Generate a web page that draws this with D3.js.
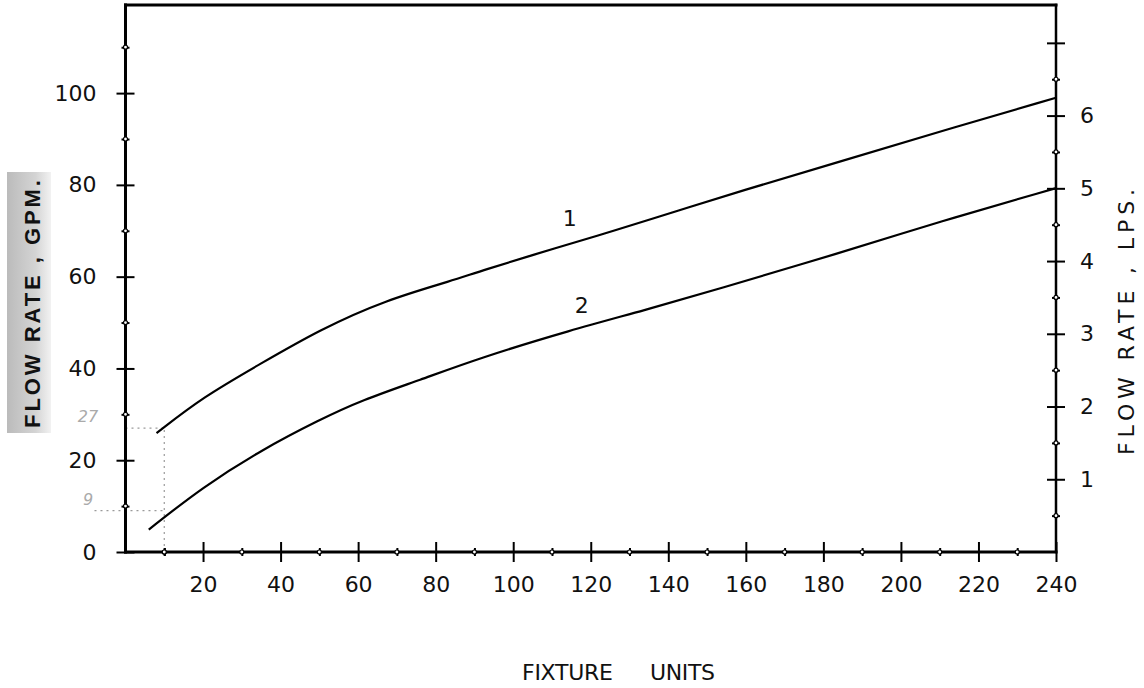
<!DOCTYPE html>
<html>
<head>
<meta charset="utf-8">
<script src="https://cdn.jsdelivr.net/npm/d3@7"></script>
<style>
  html, body { margin: 0; padding: 0; background: #fff; }
  svg { display: block; }
  .tick text { font-family: "DejaVu Sans", sans-serif; font-size: 22px; fill: #111; }
</style>
</head>
<body>
<svg id="chart" width="1144" height="688"></svg>
<script>
// ---------------- DATA ----------------
const curve1Units = [8, 20, 35, 50, 67, 85, 91, 112, 126, 143, 158, 184, 210, 240];
const curve1Gpm   = [25.9, 33.8, 41.1, 48.4, 54.9, 59.3, 61.1, 66.5, 70.0, 74.5, 78.5, 85.0, 91.6, 99.0];
const curve2Units = [6, 20, 35, 50, 61, 76, 91, 115, 134, 152, 184, 210, 240];
const curve2Gpm   = [4.9, 14.2, 22.2, 28.8, 33.1, 37.5, 42.2, 48.4, 52.7, 57.1, 65.1, 72.0, 79.3];

const xMajorTicks = [20, 40, 60, 80, 100, 120, 140, 160, 180, 200, 220, 240];
const xMinorTicks = [10, 30, 50, 70, 90, 110, 130, 150, 170, 190, 210, 230];
const gpmMajorTicks = [0, 20, 40, 60, 80, 100];
const gpmMinorTicks = [10, 30, 50, 70, 90, 110];
const lpsMajorTicks = [1, 2, 3, 4, 5, 6, 7];
const lpsLabelled   = [1, 2, 3, 4, 5, 6];
const lpsMinorTicks = [0.5, 1.5, 2.5, 3.5, 4.5, 5.5, 6.5];

const curveLabels = [
  { text: "1", units: 114.6, gpm: 72.8 },
  { text: "2", units: 117.7, gpm: 53.8 }
];
// pencil read-off at 10 fixture units
const guideUnits = 10;
const guideGpm = [27, 9];
const guideText = ["27", "9"];

const GPM_PER_LPS = 15.85;
const xMax = 240, gpmTop = 119.2;

// ---------------- LAYOUT ----------------
const svg = d3.select("#chart");
const M = { left: 125.5, top: 5, right: 1056, bottom: 552 };

const x = d3.scaleLinear().domain([0, xMax]).range([M.left, M.right]);
const y = d3.scaleLinear().domain([0, gpmTop]).range([M.bottom, M.top]);
const yL = d3.scaleLinear().domain([0, gpmTop / GPM_PER_LPS]).range([M.bottom, M.top]);

// left title background (stippled highlight)
const defs = svg.append("defs");
const grad = defs.append("linearGradient").attr("id", "hl").attr("x1", 0).attr("x2", 1);
grad.append("stop").attr("offset", "0%").attr("stop-color", "#bbbbbb");
grad.append("stop").attr("offset", "65%").attr("stop-color", "#d4d4d4");
grad.append("stop").attr("offset", "100%").attr("stop-color", "#f2f2f2");
svg.append("rect").attr("x", 7).attr("y", 172).attr("width", 44).attr("height", 261)
  .attr("fill", "url(#hl)");

// faint pencil guide lines
const guide = svg.append("g").attr("stroke", "#9a9a9a").attr("stroke-width", 1.2)
  .attr("stroke-dasharray", "2,4").attr("fill", "none");
guide.append("line").attr("x1", x(guideUnits)).attr("x2", x(guideUnits))
  .attr("y1", y(0)).attr("y2", y(guideGpm[0]));
guide.append("line").attr("x1", x(0)).attr("x2", x(guideUnits))
  .attr("y1", y(guideGpm[0])).attr("y2", y(guideGpm[0]));
guide.append("line").attr("x1", x(-8)).attr("x2", x(guideUnits))
  .attr("y1", y(guideGpm[1])).attr("y2", y(guideGpm[1]));
svg.selectAll("text.pencil").data(guideGpm).join("text").attr("class", "pencil")
  .attr("x", 88).attr("y", d => y(d) - 6)
  .attr("text-anchor", "middle")
  .attr("font-family", "DejaVu Sans").attr("font-size", 16).attr("font-style", "italic")
  .attr("fill", "#aaaaaa").text((d, i) => guideText[i]);

// ---------------- AXES ----------------
function crossTicks(g, half, vertical) {
  g.select(".domain").remove();
  g.selectAll(".tick line").attr("stroke", "#000").attr("stroke-width", 2);
  if (vertical) g.selectAll(".tick line").attr("y1", -half).attr("y2", half);
  else g.selectAll(".tick line").attr("x1", -half).attr("x2", half);
}

// left GPM axis
const gLeft = svg.append("g").attr("transform", `translate(${M.left},0)`)
  .call(d3.axisLeft(y).tickValues(gpmMajorTicks).tickSize(9).tickPadding(20).tickFormat(d3.format("d")));
crossTicks(gLeft, 9, false);
const gLeftMinor = svg.append("g").attr("transform", `translate(${M.left},0)`)
  .call(d3.axisLeft(y).tickValues(gpmMinorTicks).tickSize(4).tickFormat(""));
crossTicks(gLeftMinor, 4, false);

// right LPS axis
const gRight = svg.append("g").attr("transform", `translate(${M.right},0)`)
  .call(d3.axisRight(yL).tickValues(lpsMajorTicks).tickSize(9).tickPadding(15)
    .tickFormat(d => lpsLabelled.includes(d) ? d : ""));
crossTicks(gRight, 9, false);
const gRightMinor = svg.append("g").attr("transform", `translate(${M.right},0)`)
  .call(d3.axisRight(yL).tickValues(lpsMinorTicks).tickSize(4).tickFormat(""));
crossTicks(gRightMinor, 4, false);

// bottom axis
const gBottom = svg.append("g").attr("transform", `translate(0,${M.bottom})`)
  .call(d3.axisBottom(x).tickValues(xMajorTicks).tickSize(10).tickPadding(14));
crossTicks(gBottom, 10, true);
const gBottomMinor = svg.append("g").attr("transform", `translate(0,${M.bottom})`)
  .call(d3.axisBottom(x).tickValues([guideUnits].concat(xMinorTicks)).tickSize(4).tickFormat(""));
crossTicks(gBottomMinor, 4, true);

// frame: left axis, bottom axis, right axis, top border
const frame = svg.append("g").attr("stroke", "#000").attr("fill", "none").attr("stroke-linecap", "square");
frame.append("line").attr("x1", x(0)).attr("x2", x(0)).attr("y1", y(gpmTop)).attr("y2", y(0)).attr("stroke-width", 3);
frame.append("line").attr("x1", x(0)).attr("x2", x(xMax)).attr("y1", y(0)).attr("y2", y(0)).attr("stroke-width", 3);
frame.append("line").attr("x1", x(xMax)).attr("x2", x(xMax)).attr("y1", y(gpmTop)).attr("y2", y(0)).attr("stroke-width", 2.5);
frame.append("line").attr("x1", x(0)).attr("x2", x(xMax)).attr("y1", y(gpmTop)).attr("y2", y(gpmTop)).attr("stroke-width", 3);

// minor tick knots (small circles on the lines)
const knots = svg.append("g").attr("fill", "#fff").attr("stroke", "#000").attr("stroke-width", 1.2);
knots.selectAll("circle.lx").data([guideUnits].concat(xMinorTicks)).join("circle")
  .attr("cx", d => x(d)).attr("cy", M.bottom).attr("r", 2);
knots.selectAll("circle.ly").data(gpmMinorTicks).join("circle")
  .attr("cx", M.left).attr("cy", d => y(d)).attr("r", 2);
knots.selectAll("circle.ry").data(lpsMinorTicks).join("circle")
  .attr("cx", M.right).attr("cy", d => yL(d)).attr("r", 2);

// ---------------- CURVES ----------------
const line = d3.line().x(d => x(d[0])).y(d => y(d[1])).curve(d3.curveBasis);
const series = [
  d3.zip(curve1Units, curve1Gpm),
  d3.zip(curve2Units, curve2Gpm)
];
svg.append("g").selectAll("path").data(series).join("path")
  .attr("d", line).attr("fill", "none").attr("stroke", "#000").attr("stroke-width", 2.2);

svg.selectAll("text.clab").data(curveLabels).join("text").attr("class", "clab")
  .attr("x", d => x(d.units)).attr("y", d => y(d.gpm)).attr("dy", "0.36em")
  .attr("text-anchor", "middle").attr("font-family", "DejaVu Sans").attr("font-size", 22)
  .attr("fill", "#111").text(d => d.text);

// ---------------- TITLES ----------------
svg.append("text").attr("transform", "translate(40,304) rotate(-90)")
  .attr("text-anchor", "middle").attr("font-family", "Liberation Sans, Arial, sans-serif")
  .attr("font-weight", "bold").attr("font-size", 22).attr("fill", "#111")
  .attr("textLength", 248).attr("lengthAdjust", "spacing")
  .text("FLOW RATE , GPM.");

svg.append("text").attr("transform", "translate(1134,322) rotate(-90)")
  .attr("text-anchor", "middle").attr("font-family", "DejaVu Sans, sans-serif")
  .attr("font-size", 22).attr("fill", "#111")
  .attr("textLength", 266).attr("lengthAdjust", "spacing")
  .text("FLOW  RATE , LPS.");

svg.append("text").attr("x", 522).attr("y", 680)
  .attr("font-family", "DejaVu Sans, sans-serif").attr("font-size", 22).attr("fill", "#111")
  .attr("textLength", 91).attr("lengthAdjust", "spacing").text("FIXTURE");
svg.append("text").attr("x", 650).attr("y", 680)
  .attr("font-family", "DejaVu Sans, sans-serif").attr("font-size", 22).attr("fill", "#111")
  .attr("textLength", 65).attr("lengthAdjust", "spacing").text("UNITS");
</script>
</body>
</html>
